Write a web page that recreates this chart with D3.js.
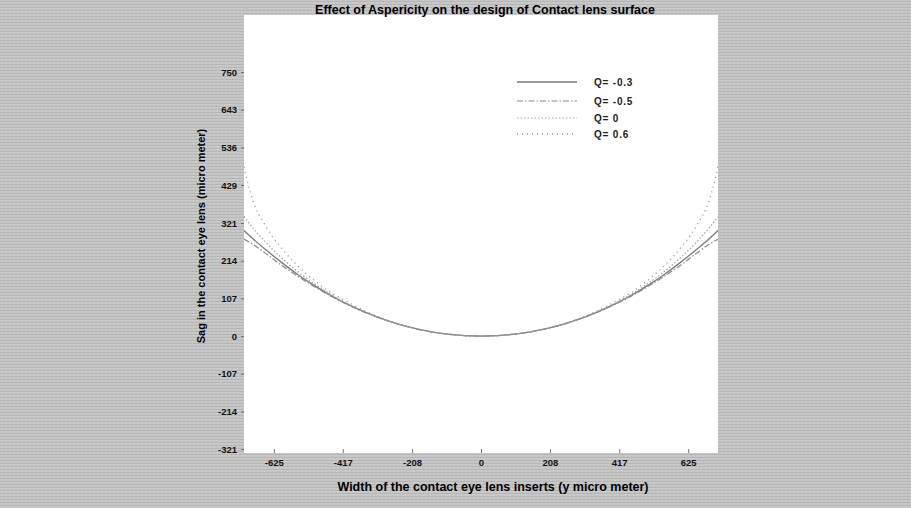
<!DOCTYPE html>
<html><head><meta charset="utf-8">
<script src="https://cdn.jsdelivr.net/npm/d3@7"></script>
<style>
html,body{margin:0;padding:0;background:#c2c2c2;}
text{font-family:"Liberation Sans",Arial,sans-serif;}
</style></head>
<body>
<svg id="chart" width="911" height="508"></svg>
<script>
const xWidth = [-715,-690,-650,-600,-550,-500,-450,-400,-350,-300,-250,-200,-150,-100,-50,0,50,100,150,200,250,300,350,400,450,500,550,600,650,690,715];
const sagQm03 = [300,278,246,208,173,142,114,89.5,68,49.6,34.2,21.8,12.2,5.4,1.4,0,1.4,5.4,12.2,21.8,34.2,49.6,68,89.5,114,142,173,208,246,278,300];
const sagQm05 = [275,262,235,200,168,139,112,88.5,67.5,49.3,34.1,21.7,12.2,5.4,1.4,0,1.4,5.4,12.2,21.7,34.1,49.3,67.5,88.5,112,139,168,200,235,262,275];
const sagQ0   = [340,309,267,221,181,147,117,91,68.8,50,34.4,21.9,12.2,5.4,1.4,0,1.4,5.4,12.2,21.9,34.4,50,68.8,91,117,147,181,221,267,309,340];
const sagQ06  = [480,390,313,248,197,156,122,95.8,71.4,51.4,35.1,22.1,12.3,5.4,1.4,0,1.4,5.4,12.3,22.1,35.1,51.4,71.4,95.8,122,156,197,248,313,390,480];
const seriesNames = ["Q= -0.3","Q= -0.5","Q= 0","Q= 0.6"];
const xTicks = [-625,-417,-208,0,208,417,625];
const yTicks = [-321,-214,-107,0,107,214,321,429,536,643,750];
const titleText = "Effect of Aspericity on the design of Contact lens surface";
const xLabelText = "Width of the contact eye lens inserts (y micro meter)";
const yLabelText = "Sag in the contact eye lens (micro meter)";

const svg = d3.select("#chart");
const L = 244, R = 718, T = 15, B = 453;
const x = d3.scaleLinear().domain([-715, 715]).range([L, R]);
const y = d3.scaleLinear().domain([-332, 912]).range([B, T]);

// textured grey background
const defs = svg.append("defs");
const pat = defs.append("pattern").attr("id","tex").attr("width",4).attr("height",3).attr("patternUnits","userSpaceOnUse");
pat.append("rect").attr("width",4).attr("height",3).attr("fill","#c6c6c6");
pat.append("rect").attr("y",1).attr("width",4).attr("height",1).attr("fill","#b6b6b6");
pat.append("rect").attr("x",1).attr("y",2).attr("width",1).attr("height",1).attr("fill","#d2d2d2");
svg.append("rect").attr("x",0).attr("y",0).attr("width",911).attr("height",508).attr("fill","url(#tex)");
svg.append("rect").attr("x",L).attr("y",T).attr("width",R-L).attr("height",B-T).attr("fill","#ffffff");

// axes
const xAxis = svg.append("g").attr("transform",`translate(0,${B})`)
  .call(d3.axisBottom(x).tickValues(xTicks).tickSize(-4).tickPadding(6).tickFormat(d=>d));
const yAxis = svg.append("g").attr("transform",`translate(${L},0)`)
  .call(d3.axisLeft(y).tickValues(yTicks).tickSize(3).tickPadding(4).tickFormat(d=>d));
[xAxis,yAxis].forEach(g=>{
  g.select(".domain").remove();
  g.selectAll(".tick line").attr("stroke","#555").attr("stroke-width",0.8);
  g.selectAll("text").attr("font-size","9.5px").attr("font-weight","bold").attr("fill","#111");
});

// lines
const styles = [
  {color:"#7a7a7a", dash:null, w:1.3},
  {color:"#8a8a8a", dash:"6,2,1.5,2", w:1.2},
  {color:"#a0a0a0", dash:"1.5,2", w:1.2},
  {color:"#909090", dash:"1,4", w:1.3}
];
const allSeries = [sagQm03, sagQm05, sagQ0, sagQ06];
const line = d3.line().x((d,i)=>x(xWidth[i])).y(d=>y(d)).curve(d3.curveMonotoneX);
defs.append("clipPath").attr("id","clip").append("rect")
  .attr("x",L).attr("y",T).attr("width",R-L).attr("height",B-T);
allSeries.forEach((s,k)=>{
  svg.append("path").datum(s).attr("d",line)
    .attr("fill","none").attr("stroke",styles[k].color).attr("stroke-width",styles[k].w)
    .attr("stroke-dasharray",styles[k].dash).attr("clip-path","url(#clip)");
});

// legend
const legY = [82,101,118,134];
seriesNames.forEach((n,k)=>{
  svg.append("line").attr("x1",517).attr("x2",577).attr("y1",legY[k]).attr("y2",legY[k])
    .attr("stroke",styles[k].color).attr("stroke-width",styles[k].w).attr("stroke-dasharray",styles[k].dash);
  svg.append("text").attr("x",594).attr("y",legY[k]+3.5).attr("font-size","10px").attr("font-weight","bold")
    .attr("letter-spacing","0.8px").attr("fill","#222").text(n);
});

// titles
svg.append("text").attr("x",485).attr("y",14).attr("text-anchor","middle")
  .attr("font-size","12.5px").attr("font-weight","bold").attr("fill","#000").text(titleText);
svg.append("text").attr("x",493).attr("y",491).attr("text-anchor","middle")
  .attr("font-size","12.5px").attr("font-weight","bold").attr("fill","#000").text(xLabelText);
svg.append("text").attr("transform","translate(205,236) rotate(-90)").attr("text-anchor","middle")
  .attr("font-size","11px").attr("font-weight","bold").attr("fill","#000").text(yLabelText);
</script>
</body></html>
